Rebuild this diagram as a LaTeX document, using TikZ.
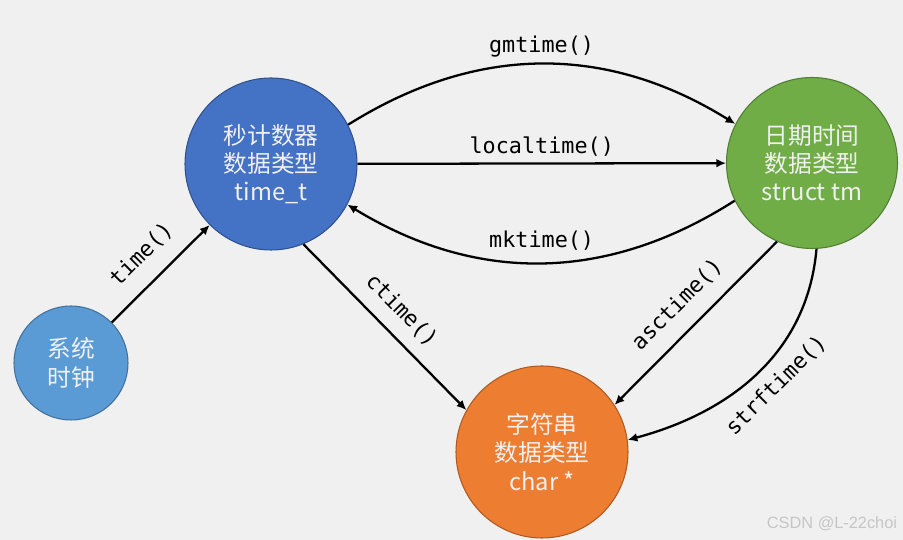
\documentclass[tikz,border=0pt]{standalone}
\usepackage{fontspec}
\usetikzlibrary{arrows.meta}
\setmainfont{Noto Sans CJK SC}
\newfontfamily\codefont{DejaVu Sans Mono}
\newfontfamily\markfont{Liberation Sans}
\definecolor{bggray}{RGB}{240,240,240}
\definecolor{clockblue}{RGB}{91,155,213}
\definecolor{clockline}{RGB}{65,113,156}
\definecolor{secsblue}{RGB}{68,114,196}
\definecolor{secsline}{RGB}{47,82,143}
\definecolor{dategreen}{RGB}{112,173,71}
\definecolor{dateline}{RGB}{80,126,50}
\definecolor{strorange}{RGB}{237,125,49}
\definecolor{strline}{RGB}{174,90,33}

\begin{document}
\begin{tikzpicture}[>={Latex[length=5.5pt,width=5pt]},
  datatype/.style={circle, draw, line width=0.6pt, text=white!94!black, align=center,
    inner sep=0pt, font=\fontsize{13.5}{16}\selectfont},
  conv/.style={->, line width=1.3pt},
  fn/.style={font=\codefont\fontsize{12.4}{14}\selectfont}]
  \useasboundingbox (0,0) rectangle (18.06,10.8);
  \fill[bggray] (0,0) rectangle (18.06,10.8);
  % the four data types
  \node[datatype, fill=clockblue, draw=clockline, minimum size=2.28cm] (clock) at (1.42,3.54) {系统\\时钟};
  \node[datatype, fill=secsblue, draw=secsline, minimum size=3.44cm] (secs) at (5.42,7.52) {秒计数器\\数据类型\\time\_t};
  \node[datatype, fill=dategreen, draw=dateline, minimum size=3.42cm] (date) at (16.24,7.54) {日期时间\\数据类型\\struct tm};
  \node[datatype, fill=strorange, draw=strline, minimum size=3.44cm] (str) at (10.84,1.76) {字符串\\数据类型\\char *};
  % conversions
  \draw[conv] (clock) -- node[fn, sloped, above=6pt] {time()} (secs);
  \draw[conv] (secs.27) to[bend left=32] node[fn, above=0pt] {gmtime()} (date.153);
  \draw[conv] (secs) -- node[fn, above=0pt] {localtime()} (date);
  \draw[conv] (date.206) to[bend left=32] node[fn, above=3pt] {mktime()} (secs.332);
  \draw[conv] (secs.-68) -- node[fn, sloped, above=4pt] {ctime()} (str.151);
  \draw[conv] (date.-114) -- node[fn, sloped, above=5.5pt] {asctime()} (str.33);
  \draw[conv] (date.-87) to[out=-95, in=15] node[fn, sloped, below=3pt, pos=0.48] {strftime()} (str.8);
  \node[font=\markfont\fontsize{9.3}{11}\selectfont, text=gray!45] (mark) at (16.64,0.32) {CSDN @L-22choi};
\end{tikzpicture}
\end{document}
